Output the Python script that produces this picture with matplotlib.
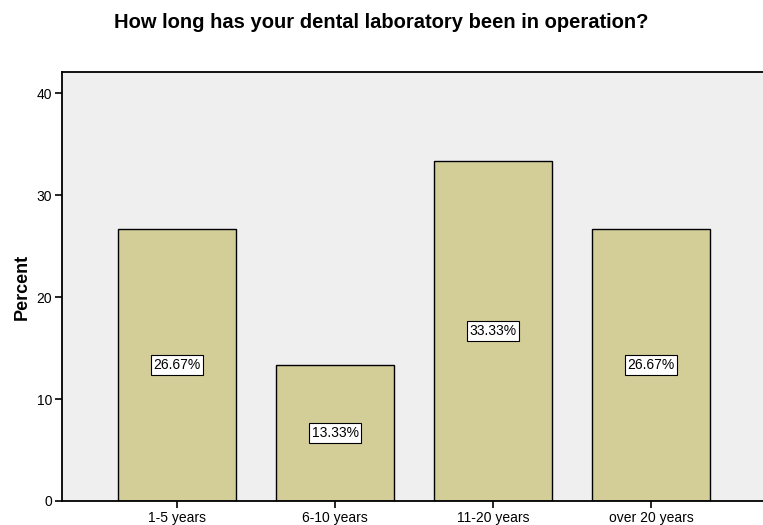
import matplotlib.pyplot as plt

categories = ['1-5 years', '6-10 years', '11-20 years', 'over 20 years']
percents = [26.67, 13.33, 33.33, 26.67]
ytick_vals = [0, 10, 20, 30, 40]

plt.rcParams['font.family'] = ['Liberation Sans', 'DejaVu Sans']

fig = plt.figure(figsize=(7.63, 5.25), dpi=100)
ax = fig.add_axes([62 / 763, 24 / 525, 1 - 62 / 763, 429 / 525])
ax.set_facecolor('#eeefee')

x = range(len(categories))
ax.bar(x, percents, width=0.747, color='#d3ce98', edgecolor='black', linewidth=1.0, zorder=2)

for xi, v in zip(x, percents):
    ax.text(xi, v / 2, f'{v:.2f}%', ha='center', va='center', fontsize=10,
            bbox=dict(boxstyle='square,pad=0.2', facecolor='white', edgecolor='black', linewidth=0.8),
            zorder=3)

ax.set_xlim(-0.728, 3.709)
ax.set_ylim(0, 42.06)
ax.set_xticks(list(x))
ax.set_xticklabels(categories, fontsize=10)
ax.set_yticks(ytick_vals)
ax.set_yticklabels([str(t) for t in ytick_vals], fontsize=10)
ax.tick_params(axis='both', direction='out', length=5, width=1.2, color='black', pad=2)

for side in ['left', 'bottom', 'top']:
    ax.spines[side].set_linewidth(1.3)
    ax.spines[side].set_color('black')
ax.spines['right'].set_visible(False)

ax.set_ylabel('Percent', fontsize=13, fontweight='bold')
ax.yaxis.set_label_coords(-0.044, 0.5)
fig.text(0.5, 1 - 23 / 525, 'How long has your dental laboratory been in operation?',
         ha='center', va='center', fontsize=14.5, fontweight='bold')

fig.savefig('out.png', dpi=100)
